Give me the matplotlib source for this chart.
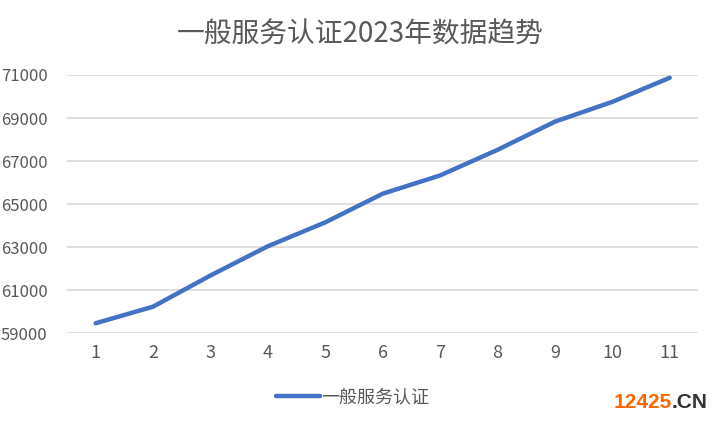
import matplotlib.pyplot as plt

plt.rcParams['font.family'] = ['Noto Sans CJK SC', 'DejaVu Sans']

months = [1, 2, 3, 4, 5, 6, 7, 8, 9, 10, 11]
counts = [59460, 60230, 61680, 63040, 64150, 65480, 66330, 67520, 68830, 69750, 70870]
yticks = [59000, 61000, 63000, 65000, 67000, 69000, 71000]

title = "一般服务认证2023年数据趋势"
series_name = "一般服务认证"

gray = '#595959'
blue = '#4472C4'

fig = plt.figure(figsize=(7.2, 4.26), dpi=100)
ax = fig.add_axes([0.093, 0.218, 0.877, 0.606])

ax.plot(months, counts, color=blue, lw=3.2, solid_capstyle='round',
        solid_joinstyle='round', label=series_name, zorder=3)

ax.set_xlim(0.5, 11.5)
ax.set_ylim(59000, 71000)
ax.set_xticks(months)
ax.set_yticks(yticks)
ax.yaxis.grid(True, color='#d9d9d9', lw=1.2)
ax.set_axisbelow(True)
for s in ax.spines.values():
    s.set_visible(False)
ax.tick_params(length=0, labelsize=13, colors=gray)
ax.tick_params(axis='y', pad=14, labelsize=12)
ax.tick_params(axis='x', pad=8)

fig.text(0.5, 0.918, title, ha='center', va='center', fontsize=20, color=gray)

leg = fig.legend(loc='center', bbox_to_anchor=(0.49, 0.068), frameon=False,
                 fontsize=13, handlelength=2.4, handletextpad=0.1)
for t in leg.get_texts():
    t.set_color(gray)

# watermark
fig.text(672 / 720, 0.054, "12425", ha='right', va='center', fontsize=15,
         fontweight='bold', color='#FF6600', family='Liberation Sans')
fig.text(672 / 720, 0.054, ".CN", ha='left', va='center', fontsize=15,
         fontweight='bold', color='#333333', family='Liberation Sans')

fig.savefig('out.png', dpi=100)
